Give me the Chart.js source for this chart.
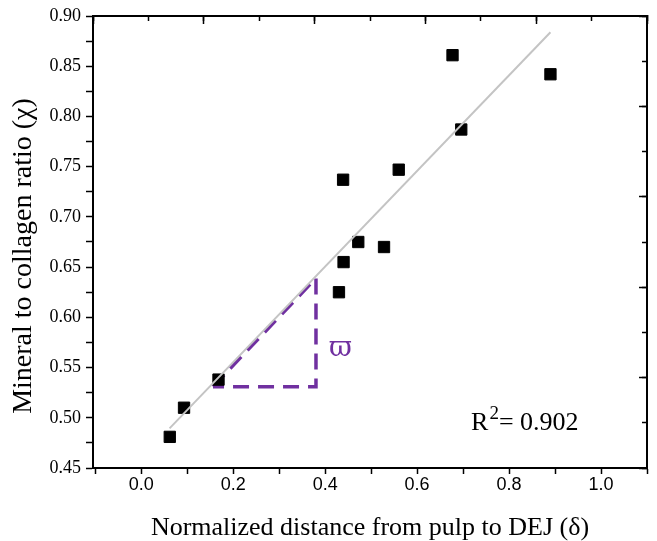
<!DOCTYPE html>
<html>
<head>
<meta charset="utf-8">
<script src="https://cdn.jsdelivr.net/npm/chart.js@4.4.1/dist/chart.umd.min.js"></script>
<style>
  html, body { margin: 0; padding: 0; background: #fff; }
  #wrap { width: 657px; height: 541px; }
</style>
</head>
<body>
<div id="wrap"><canvas id="myChart" width="657" height="541"></canvas></div>
<script>
// measured points
const distance = [0.062, 0.093, 0.168, 0.430, 0.440, 0.439, 0.472, 0.528, 0.560, 0.677, 0.696, 0.890];
const ratio    = [0.481, 0.510, 0.538, 0.625, 0.655, 0.737, 0.675, 0.670, 0.747, 0.861, 0.787, 0.842];

const fitX = [0.0615, 0.890];
const fitY = [0.4895, 0.8838];

// purple slope triangle
const triX = [0.156, 0.380, 0.380, 0.156];
const triY = [0.531, 0.639, 0.531, 0.531];

// ticks
const xTickValues = [-0.1, 0.0, 0.1, 0.2, 0.3, 0.4, 0.5, 0.6, 0.7, 0.8, 0.9, 1.0, 1.1];
const xTickLabels = ['', '0.0', '', '0.2', '', '0.4', '', '0.6', '', '0.8', '', '1.0', ''];
const yTickValues = [0.45, 0.475, 0.50, 0.525, 0.55, 0.575, 0.60, 0.625, 0.65, 0.675, 0.70, 0.725, 0.75, 0.775, 0.80, 0.825, 0.85, 0.875, 0.90];
const yTickLabels = ['0.45', '', '0.50', '', '0.55', '', '0.60', '', '0.65', '', '0.70', '', '0.75', '', '0.80', '', '0.85', '', '0.90'];

const r2Text = '0.902';
const purple = '#7030a0';

function pairs(xs, ys) {
  return xs.map(function(x, i){ return {x: x, y: ys[i]}; });
}

// inward tick marks for the top and right frame
function frameAxis(pos, step, len) {
  return {
    position: pos, min: 0, max: 10,
    ticks: { display: false, stepSize: step },
    grid: { drawOnChartArea: false, tickLength: -len, tickWidth: 1.5, tickColor: '#000' },
    border: { display: true, color: '#000', width: 2 },
    afterFit: function(s){ if (pos === 'top') s.height = 0; else s.width = 0; }
  };
}

// R^2 and omega labels, placed through the chart scales
const labelsPlugin = {
  id: 'labels',
  afterDatasetsDraw: function(chart){
    const ctx = chart.ctx, xs = chart.scales.x, ys = chart.scales.y;
    ctx.save();
    ctx.textBaseline = 'alphabetic';
    ctx.fillStyle = purple;
    ctx.textAlign = 'center';
    ctx.font = '28px "DejaVu Serif", serif';
    ctx.fillText('\u03d6', xs.getPixelForValue(0.433), ys.getPixelForValue(0.5615));

    ctx.fillStyle = '#000';
    ctx.textAlign = 'left';
    let px = xs.getPixelForValue(0.7174);
    const py = ys.getPixelForValue(0.4878);
    ctx.font = '26px "Liberation Serif", serif';
    ctx.fillText('R', px, py);
    px += ctx.measureText('R').width + 1;
    ctx.font = '19px "Liberation Serif", serif';
    ctx.fillText('2', px, py - 11.5);
    px += ctx.measureText('2').width;
    ctx.font = '26px "Liberation Serif", serif';
    ctx.fillText('= ' + r2Text, px, py);
    ctx.restore();
  }
};

var ctx = document.getElementById('myChart').getContext('2d');
window.myChart = new Chart(ctx, {
  type: 'scatter',
  data: {
    datasets: [
      {
        label: 'fit',
        data: pairs(fitX, fitY),
        showLine: true,
        borderColor: '#c4c4c4',
        borderWidth: 2,
        pointRadius: 0
      },
      {
        label: 'data',
        data: pairs(distance, ratio),
        pointStyle: 'rect',
        pointRadius: 8,
        pointHoverRadius: 8,
        backgroundColor: '#000',
        borderColor: '#000',
        borderWidth: 1
      },
      {
        label: 'slope',
        data: pairs(triX, triY),
        showLine: true,
        borderColor: purple,
        borderWidth: 3.5,
        borderDash: [16, 9],
        pointRadius: 0
      }
    ]
  },
  options: {
    responsive: false,
    animation: false,
    layout: { padding: { top: 16, right: 10, left: 0, bottom: 0 } },
    plugins: { legend: { display: false }, tooltip: { enabled: false } },
    scales: {
      x: {
        type: 'linear', position: 'bottom', min: -0.105, max: 1.1,
        afterBuildTicks: function(s){ s.ticks = xTickValues.map(function(v){ return {value: v}; }); },
        afterFit: function(s){ s.height = 73; },
        ticks: {
          autoSkip: false, maxRotation: 0, padding: 0, color: '#000',
          font: { family: '"Liberation Sans", Arial, sans-serif', size: 18 },
          callback: function(v, i){ return xTickLabels[i]; }
        },
        grid: { drawOnChartArea: false, tickLength: 6, tickWidth: 1.5, tickColor: '#000' },
        border: { color: '#000', width: 2 },
        title: {
          display: true, text: 'Normalized distance from pulp to DEJ (\u03b4)', color: '#000',
          font: { family: '"Liberation Serif", "Times New Roman", serif', size: 26, lineHeight: 1 },
          padding: { top: 0, bottom: 0 }
        }
      },
      y: {
        type: 'linear', position: 'left', min: 0.45, max: 0.90,
        afterBuildTicks: function(s){ s.ticks = yTickValues.map(function(v){ return {value: v}; }); },
        afterFit: function(s){ s.width = 93; },
        ticks: {
          autoSkip: false, padding: 5, color: '#000',
          font: { family: '"Liberation Serif", "Times New Roman", serif', size: 18 },
          callback: function(v, i){ return yTickLabels[i]; }
        },
        grid: { drawOnChartArea: false, tickLength: 7, tickWidth: 1.5, tickColor: '#000' },
        border: { color: '#000', width: 2 },
        title: {
          display: true, text: 'Mineral to collagen ratio (\u03c7)    ', color: '#000',
          font: { family: '"Liberation Serif", "Times New Roman", serif', size: 28, lineHeight: 1 },
          padding: { top: 10, bottom: 0 }
        }
      },
      xTopMinor: frameAxis('top', 1, 5),
      xTopMajor: frameAxis('top', 2, 8),
      yRightMinor: frameAxis('right', 1, 5),
      yRightMajor: frameAxis('right', 2, 8)
    }
  },
  plugins: [labelsPlugin]
});
</script>
</body>
</html>
